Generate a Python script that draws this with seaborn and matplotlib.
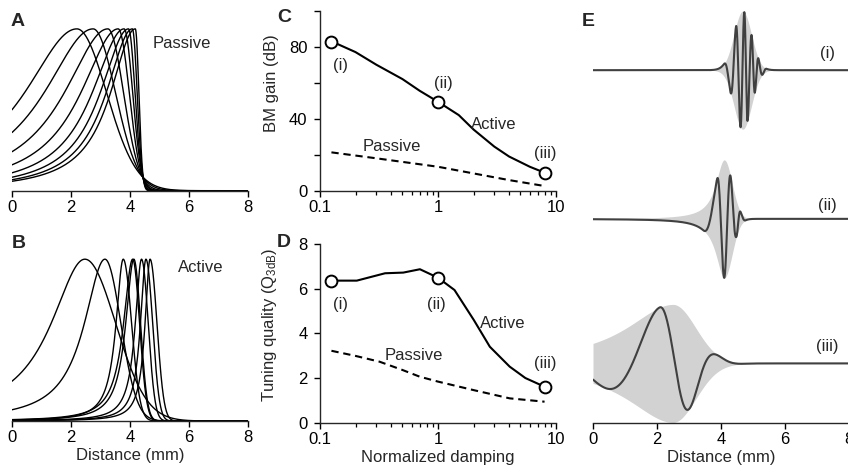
import numpy as np
import pandas as pd
import matplotlib
matplotlib.use("Agg")
import matplotlib.pyplot as plt
from matplotlib.ticker import FixedLocator, NullFormatter, LogLocator
import seaborn as sns

# ---------------- data ----------------
# Panel A - passive BM profiles: peak place (mm), left half-width (mm), right fall width (mm)
passive_peak_mm = [2.20, 2.75, 3.25, 3.60, 3.80, 3.95, 4.08, 4.18]
passive_left_w = [2.20, 2.06, 1.83, 1.57, 1.34, 1.19, 1.10, 1.04]
passive_right_w = [1.42, 1.07, 0.75, 0.53, 0.41, 0.31, 0.23, 0.17]

# Panel B - active BM profiles
active_peak_mm = [2.47, 3.15, 3.77, 4.09, 4.13, 4.39, 4.54, 4.68]
active_left_w = [1.41, 0.86, 0.30, 0.38, 0.34, 0.26, 0.23, 0.21]
active_right_w = [1.47, 0.76, 0.40, 0.33, 0.32, 0.32, 0.32, 0.33]

# Panel C - BM gain (dB) vs normalized damping
gain_active_damping = [0.125, 0.2, 0.3, 0.5, 0.7, 1.0, 1.5, 2.0, 3.0, 4.0, 6.0, 8.0]
gain_active = [83, 77, 70, 62, 55.5, 49.4, 42, 34, 24.5, 19, 13.3, 10]
gain_passive_damping = [0.125, 0.3, 1.0, 2.0, 4.0, 8.0]
gain_passive = [21.3, 18, 13.3, 9.6, 5.9, 2.6]

# Panel D - tuning quality Q3dB vs normalized damping
q_active_damping = [0.125, 0.205, 0.356, 0.508, 0.703, 1.0, 1.38, 2.01, 2.75, 4.05, 5.5, 8.0]
q_active = [6.36, 6.36, 6.69, 6.72, 6.87, 6.49, 5.94, 4.6, 3.4, 2.51, 2.0, 1.61]
q_passive_damping = [0.125, 0.2, 0.32, 0.5, 0.7, 1.0, 2.0, 4.05, 8.0]
q_passive = [3.22, 2.99, 2.73, 2.36, 2.06, 1.84, 1.46, 1.09, 0.94]

# marked conditions (i), (ii), (iii)
marked_damping = [0.125, 1.0, 8.0]
marked_gain = [82.8, 49.4, 10.0]
marked_q = [6.36, 6.49, 1.61]
marked_labels = ["(i)", "(ii)", "(iii)"]

# Panel E - travelling-wave snapshots: envelope peak, left width, left tail order, right width
wave_labels = ["(i)", "(ii)", "(iii)"]
env_peak_mm = [4.68, 4.10, 2.50]
env_left_w = [0.385, 0.32, 1.79]
env_left_order = [40.0, 1.0, 1.0]
env_right_w = [0.385, 0.35, 1.00]
# places (mm) of successive wave crests/troughs and their phase (in units of pi)
wave_ext_x = [
    [4.09, 4.30, 4.47, 4.61, 4.73, 4.83, 4.96, 5.06, 5.17, 5.30, 5.43],
    [3.45, 3.88, 4.10, 4.30, 4.49, 4.61, 4.78],
    [0.0, 0.375, 2.09, 3.03, 3.97, 4.90],
]
wave_ext_phase = [
    [0, 1, 2, 3, 4, 5, 6, 7, 8, 9, 10],
    [1, 2, 3, 4, 5, 6, 7],
    [0.8, 1, 2, 3, 4, 5],
]

# ---------------- style ----------------
sns.set_style("ticks")
plt.rcParams["font.family"] = ["Liberation Sans", "DejaVu Sans"]
plt.rcParams["mathtext.fontset"] = "custom"
plt.rcParams["mathtext.rm"] = "Liberation Sans"
plt.rcParams["mathtext.it"] = "Liberation Sans:italic"
plt.rcParams["axes.linewidth"] = 1.0
FS = 12

W, H = 848, 474
fig = plt.figure(figsize=(W / 100, H / 100), dpi=100)


def box(left, bottom, width, height):
    return [left / W, 1 - bottom / H, width / W, height / H]


def shape(x, p, wl, n, wr):
    d = x - p
    left = (1 + (d / wl) ** 2 / n) ** (-n)
    right = np.exp(-(d / wr) ** 2)
    return np.where(d < 0, left, right)


x = np.linspace(0, 8, 1601)


def style_distance_axis(ax):
    for s in ["left", "top", "right"]:
        ax.spines[s].set_visible(False)
    ax.spines["bottom"].set_bounds(0, 8)
    ax.set_xlim(0, 8)
    ax.set_xticks([0, 2, 4, 6, 8])
    ax.set_xticklabels(["0", "2", "4", "6", "8"])
    ax.set_yticks([])
    ax.set_ylabel("")
    ax.tick_params(axis="x", direction="out", length=4.5, width=1.0,
                   labelsize=FS, pad=2, colors="black")


# ---------- A and B ----------
axA = fig.add_axes(box(12, 190.7, 236, 178))
axB = fig.add_axes(box(12, 421, 236, 178))
for ax, peaks, lw_, rw_, name in [
    (axA, passive_peak_mm, passive_left_w, passive_right_w, "Passive"),
    (axB, active_peak_mm, active_left_w, active_right_w, "Active"),
]:
    rows = []
    for k, (p, a, b) in enumerate(zip(peaks, lw_, rw_)):
        rows.append(pd.DataFrame({"x": x, "y": shape(x, p, a, 1.0, b), "curve": k}))
    df = pd.concat(rows)
    sns.lineplot(data=df, x="x", y="y", units="curve", estimator=None,
                 color="black", lw=1.0, ax=ax, legend=False)
    ax.set_ylim(0, 1.1)
    style_distance_axis(ax)
    ax.set_xlabel("")
axA.text(4.75, 0.91, "Passive", fontsize=FS, ha="left", va="center")
axB.text(5.63, 0.95, "Active", fontsize=FS, ha="left", va="center")
axB.set_xlabel("Distance (mm)", fontsize=FS, labelpad=2)


# ---------- C and D ----------
def style_damping_axis(ax):
    sns.despine(ax=ax)
    ax.set_xscale("log")
    ax.set_xlim(0.1, 10)
    ax.spines["bottom"].set_bounds(0.1, 10)
    ax.xaxis.set_major_locator(FixedLocator([0.1, 1, 10]))
    ax.set_xticklabels(["0.1", "1", "10"])
    ax.xaxis.set_minor_locator(LogLocator(base=10, subs=np.arange(2, 10)))
    ax.xaxis.set_minor_formatter(NullFormatter())
    ax.tick_params(axis="x", which="major", direction="out", length=4.5,
                   width=1.0, labelsize=FS, pad=2.5, colors="black")
    ax.tick_params(axis="y", which="major", direction="out", length=4.5,
                   width=1.0, labelsize=FS, pad=4.5, colors="black")
    ax.tick_params(axis="x", which="minor", direction="out", length=3,
                   width=0.9, colors="black")
    ax.tick_params(axis="y", which="minor", left=False)


axC = fig.add_axes(box(320, 190.7, 236, 180))
sns.lineplot(x=gain_active_damping, y=gain_active, color="black", lw=1.5, ax=axC)
sns.lineplot(x=gain_passive_damping, y=gain_passive, color="black", lw=1.5,
             linestyle=(0, (3.5, 2.3)), ax=axC)
axC.plot(marked_damping, marked_gain, "o", ms=8.5, mfc="white", mec="black",
         mew=1.4, zorder=5)
style_damping_axis(axC)
axC.set_ylim(0, 100)
axC.spines["left"].set_bounds(0, 100)
axC.set_yticks([0, 20, 40, 60, 80, 100])
axC.set_yticklabels(["0", "", "40", "", "80", ""])
axC.set_ylabel("BM gain (dB)", fontsize=FS)
axC.yaxis.set_label_coords(-0.175, 0.6)
axC.set_xlabel("")
for xx, yy, t in [(0.148, 69.8, "(i)"), (1.11, 59.7, "(ii)"), (8.07, 20.8, "(iii)")]:
    axC.text(xx, yy, t, fontsize=FS, ha="center", va="center")
axC.text(2.94, 37, "Active", fontsize=FS, ha="center", va="center")
axC.text(0.405, 24.4, "Passive", fontsize=FS, ha="center", va="center")

axD = fig.add_axes(box(320, 422.7, 236, 178.7))
sns.lineplot(x=q_active_damping, y=q_active, color="black", lw=1.5, ax=axD)
sns.lineplot(x=q_passive_damping, y=q_passive, color="black", lw=1.5,
             linestyle=(0, (3.5, 2.3)), ax=axD)
axD.plot(marked_damping, marked_q, "o", ms=8.5, mfc="white", mec="black",
         mew=1.4, zorder=5)
style_damping_axis(axD)
axD.set_ylim(0, 8)
axD.spines["left"].set_bounds(0, 8)
axD.set_yticks([0, 2, 4, 6, 8])
axD.set_yticklabels(["0", "2", "4", "6", "8"])
axD.set_ylabel(r"Tuning quality (Q$_{\mathrm{3dB}}$)", fontsize=FS)
axD.yaxis.set_label_coords(-0.175, 0.55)
axD.set_xlabel("Normalized damping", fontsize=FS, labelpad=2)
for xx, yy, t in [(0.148, 5.31, "(i)"), (0.975, 5.31, "(ii)"), (8.07, 2.66, "(iii)")]:
    axD.text(xx, yy, t, fontsize=FS, ha="center", va="center")
axD.text(3.57, 4.45, "Active", fontsize=FS, ha="center", va="center")
axD.text(0.618, 3.03, "Passive", fontsize=FS, ha="center", va="center")

# ---------- E ----------
axE = fig.add_axes(box(593, 423, 256, 418))
offsets = [5.98, 3.46, 1.01]
for i in range(3):
    env = shape(x, env_peak_mm[i], env_left_w[i], env_left_order[i], env_right_w[i])
    phase = np.interp(x, wave_ext_x[i], np.pi * np.array(wave_ext_phase[i], float))
    wave = env * np.cos(phase)
    off = offsets[i]
    axE.fill_between(x, off - env, off + env, color="#d2d2d2", lw=0, zorder=1)
    sns.lineplot(x=x, y=wave + off, color="#404040", lw=1.5, ax=axE, zorder=2)
axE.set_ylim(0, 418 / 59)
style_distance_axis(axE)
axE.set_xlabel("Distance (mm)", fontsize=FS, labelpad=2)
for yy, t in zip([6.27, 3.69, 1.29], wave_labels):
    axE.text(7.33, yy, t, fontsize=FS, ha="center", va="center")

# ---------- panel letters ----------
for px, py, t in [(18, 21, "A"), (18.5, 243.5, "B"), (284, 17, "C"),
                  (284, 243, "D"), (588, 21, "E")]:
    fig.text(px / W, 1 - py / H, t, fontsize=14, fontweight="bold",
             ha="center", va="center")

fig.savefig("out.png", dpi=100)
